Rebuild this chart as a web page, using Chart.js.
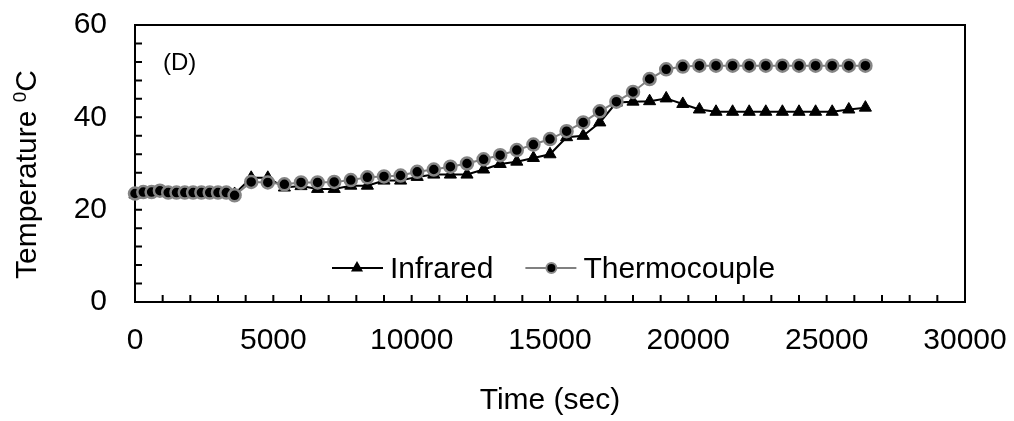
<!DOCTYPE html>
<html><head><meta charset="utf-8">
<script src="https://cdn.jsdelivr.net/npm/chart.js@4.4.1/dist/chart.umd.min.js"></script>
<style>html,body{margin:0;padding:0;background:#fff;}#wrap{width:1014px;height:421px;position:relative;}</style>
</head><body><div id="wrap"><canvas id="c"></canvas></div>
<script>
const timeSec = [0,300,600,900,1200,1500,1800,2100,2400,2700,3000,3300,3600,4200,4800,5400,6000,6600,7200,7800,8400,9000,9600,10200,10800,11400,12000,12600,13200,13800,14400,15000,15600,16200,16800,17400,18000,18600,19200,19800,20400,21000,21600,22200,22800,23400,24000,24600,25200,25800,26400];
const infrared = [23.3,23.6,23.7,23.7,23.6,23.6,23.6,23.6,23.6,23.6,23.6,23.6,23.4,26.9,26.9,24.8,25.1,24.5,24.5,25.2,25.2,26.3,26.3,27.1,27.6,27.6,27.6,28.7,29.9,30.4,31.2,32.0,35.7,36.0,38.9,43.2,43.4,43.5,44.1,42.9,41.7,41.2,41.2,41.2,41.2,41.2,41.2,41.2,41.2,41.7,42.1];
const thermocouple = [23.5,23.8,23.8,24.1,23.7,23.7,23.7,23.7,23.7,23.7,23.7,23.7,23.1,26.0,25.9,25.5,25.9,25.9,26.0,26.4,27.0,27.2,27.4,28.2,28.7,29.3,30.0,30.9,31.8,32.9,34.1,35.3,37.0,38.9,41.3,43.4,45.5,48.3,50.4,51.0,51.2,51.2,51.2,51.2,51.2,51.2,51.2,51.2,51.2,51.2,51.2];
const xTickLabels = [0,5000,10000,15000,20000,25000,30000];
const yTickLabels = [0,20,40,60];
const seriesNames = ['Infrared','Thermocouple'];
const xTitle = 'Time (sec)';
const yTitleMain = 'Temperature ';
const yTitleSup = '0';
const yTitleUnit = 'C';
const panelLabel = '(D)';

const FONT = "'Liberation Sans', Arial, sans-serif";
Chart.defaults.font.family = FONT;
Chart.defaults.color = '#000';

const toPts = arr => timeSec.map((t, i) => ({x: t, y: arr[i]}));

const decor = {
  id: 'decor',
  beforeDatasetsDraw(chart) {
    const {ctx, chartArea: a, scales: {x, y}} = chart;
    ctx.save();
    ctx.strokeStyle = '#000';
    ctx.lineWidth = 2;
    ctx.strokeRect(a.left, a.top, a.right - a.left, a.bottom - a.top);
    ctx.beginPath();
    x.ticks.forEach(t => { const px = x.getPixelForValue(t.value); ctx.moveTo(px, a.bottom); ctx.lineTo(px, a.bottom - 7); });
    y.ticks.forEach(t => { const py = y.getPixelForValue(t.value); ctx.moveTo(a.left, py); ctx.lineTo(a.left + 7, py); });
    ctx.stroke();
    ctx.restore();
  },
  afterDraw(chart) {
    const {ctx, chartArea: a} = chart;
    ctx.save();
    // panel label
    ctx.font = '24px ' + FONT;
    ctx.fillStyle = '#000';
    ctx.textAlign = 'left';
    ctx.textBaseline = 'middle';
    ctx.fillText(panelLabel, a.left + 28, a.top + 38);
    // legend
    const cx = (a.left + a.right) / 2;
    const ly = a.bottom - 34;
    ctx.font = '30px ' + FONT;
    ctx.textBaseline = 'alphabetic';
    let x0 = cx - 218;
    // Infrared
    ctx.strokeStyle = '#000'; ctx.lineWidth = 2;
    ctx.beginPath(); ctx.moveTo(x0, ly); ctx.lineTo(x0 + 51, ly); ctx.stroke();
    ctx.fillStyle = '#000';
    ctx.beginPath();
    const r = 7;
    ctx.moveTo(x0 + 25, ly - r);
    ctx.lineTo(x0 + 25 + r * Math.sin(2 * Math.PI / 3), ly - r * Math.cos(2 * Math.PI / 3));
    ctx.lineTo(x0 + 25 + r * Math.sin(4 * Math.PI / 3), ly - r * Math.cos(4 * Math.PI / 3));
    ctx.closePath(); ctx.fill();
    ctx.fillText(seriesNames[0], x0 + 58, ly + 10);
    x0 = x0 + 58 + ctx.measureText(seriesNames[0]).width + 32;
    // Thermocouple
    ctx.strokeStyle = '#808080'; ctx.lineWidth = 2;
    ctx.beginPath(); ctx.moveTo(x0, ly); ctx.lineTo(x0 + 51, ly); ctx.stroke();
    ctx.beginPath(); ctx.arc(x0 + 26, ly, 5, 0, Math.PI * 2);
    ctx.fillStyle = '#000'; ctx.fill();
    ctx.lineWidth = 2; ctx.strokeStyle = '#8a8a8a'; ctx.stroke();
    ctx.fillStyle = '#000';
    ctx.fillText(seriesNames[1], x0 + 58, ly + 10);
    // y title
    ctx.translate(36, (a.top + a.bottom) / 2 + 11);
    ctx.rotate(-Math.PI / 2);
    ctx.font = '30px ' + FONT;
    const w1 = ctx.measureText(yTitleMain).width;
    ctx.font = '19px ' + FONT;
    const w2 = ctx.measureText(yTitleSup).width;
    ctx.font = '30px ' + FONT;
    const w3 = ctx.measureText(yTitleUnit).width;
    let sx = -(w1 + w2 + w3) / 2;
    ctx.textAlign = 'left';
    ctx.fillText(yTitleMain, sx, 0); sx += w1;
    ctx.font = '19px ' + FONT;
    ctx.fillText(yTitleSup, sx, -10); sx += w2;
    ctx.font = '30px ' + FONT;
    ctx.fillText(yTitleUnit, sx, 0);
    ctx.restore();
  }
};

new Chart(document.getElementById('c'), {
  type: 'line',
  data: {
    datasets: [
      {label: seriesNames[0], data: toPts(infrared), borderColor: '#000', backgroundColor: '#000', borderWidth: 2,
       pointStyle: 'triangle', pointRadius: 7, pointBorderWidth: 1, pointBorderColor: '#000', pointBackgroundColor: '#000',
       tension: 0, clip: false, order: 2},
      {label: seriesNames[1], data: toPts(thermocouple), borderColor: '#808080', backgroundColor: '#000', borderWidth: 2,
       pointStyle: 'circle', pointRadius: 6, pointBorderWidth: 2.5, pointBorderColor: '#858585', pointBackgroundColor: '#000',
       tension: 0, clip: false, order: 1}
    ]
  },
  options: {
    responsive: true,
    maintainAspectRatio: false,
    animation: false,
    events: [],
    layout: {padding: {top: 25, right: 49, left: 0, bottom: 0}},
    plugins: {legend: {display: false}, tooltip: {enabled: false}},
    scales: {
      x: {
        type: 'linear', min: 0, max: 30000,
        grid: {display: false, drawTicks: false},
        border: {display: false},
        ticks: {stepSize: 1000, autoSkip: false, maxRotation: 0, padding: 21, font: {size: 30},
                callback: v => xTickLabels.includes(v) ? String(v) : ''},
        title: {display: true, text: xTitle, font: {size: 30}, padding: {top: 0, bottom: 2}},
        afterFit: s => { s.height = 119; s.paddingLeft = 0; s.paddingRight = 0; s.paddingTop = 0; s.paddingBottom = 0; }
      },
      y: {
        min: 0, max: 60,
        grid: {display: false, drawTicks: false},
        border: {display: false},
        ticks: {stepSize: 4, autoSkip: false, padding: 28, font: {size: 30},
                callback: v => yTickLabels.includes(v) ? String(v) : ''},
        afterFit: s => { s.width = 135; s.paddingLeft = 0; s.paddingRight = 0; s.paddingTop = 0; s.paddingBottom = 0; }
      }
    }
  },
  plugins: [decor]
});
</script>
</body></html>
